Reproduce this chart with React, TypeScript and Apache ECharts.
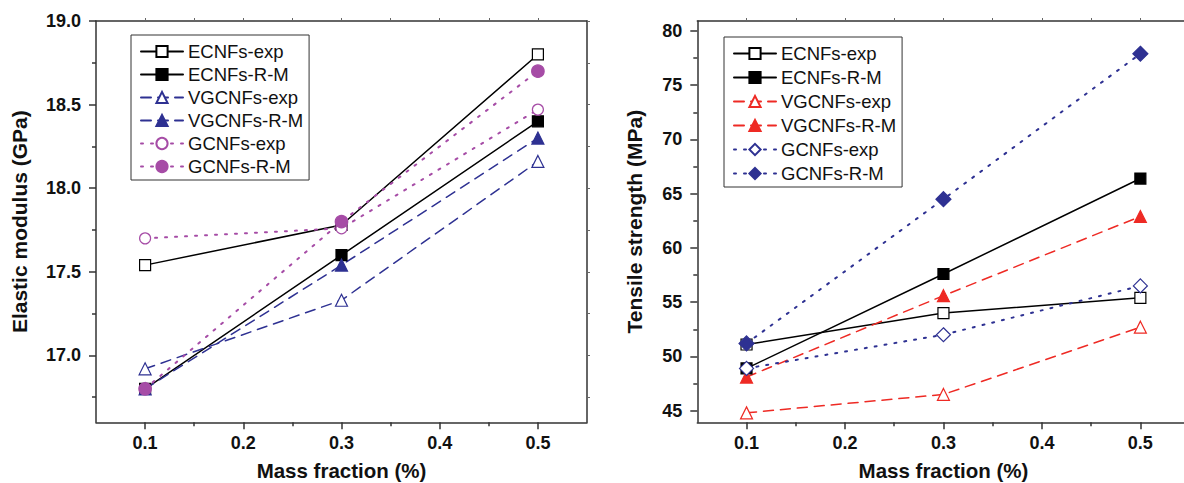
import React, { useEffect, useRef } from "react";
import * as echarts from "echarts";

const FONT = "'Liberation Sans', Arial, Helvetica, sans-serif";

// Categories (mass fraction, %)
const massFractions = [0.1, 0.3, 0.5];
const seriesNames = ["ECNFs-exp", "ECNFs-R-M", "VGCNFs-exp", "VGCNFs-R-M", "GCNFs-exp", "GCNFs-R-M"];

// Left chart: Elastic modulus (GPa)
const modulusEcnfExp = [17.54, 17.78, 18.8];
const modulusEcnfRM = [16.8, 17.6, 18.4];
const modulusVgcnfExp = [16.92, 17.33, 18.16];
const modulusVgcnfRM = [16.8, 17.54, 18.3];
const modulusGcnfExp = [17.7, 17.76, 18.47];
const modulusGcnfRM = [16.8, 17.8, 18.7];

// Right chart: Tensile strength (MPa)
const strengthEcnfExp = [51.1, 54.0, 55.4];
const strengthEcnfRM = [48.9, 57.6, 66.4];
const strengthVgcnfExp = [44.8, 46.5, 52.7];
const strengthVgcnfRM = [48.1, 55.6, 62.9];
const strengthGcnfExp = [48.9, 52.0, 56.5];
const strengthGcnfRM = [51.2, 64.5, 77.9];

// Tick values
const xMajorTicks = [0.1, 0.2, 0.3, 0.4, 0.5];
const xMinorTicks = [0.15, 0.25, 0.35, 0.45];
const xAllTicks = [0.1, 0.15, 0.2, 0.25, 0.3, 0.35, 0.4, 0.45, 0.5];
const modulusMajorTicks = [17.0, 17.5, 18.0, 18.5, 19.0];
const modulusMinorTicks = [16.75, 17.25, 17.75, 18.25, 18.75];
const strengthMajorTicks = [45, 50, 55, 60, 65, 70, 75, 80];
const strengthMinorTicks = [47.5, 52.5, 57.5, 62.5, 67.5, 72.5, 77.5];

const pairs = (ys: number[]) => massFractions.map((x, i) => [x, ys[i]]);

type Cfg = {
  grid: { left: number; top: number; width: number; height: number };
  yMin: number;
  yMax: number;
  yMajor: number[];
  yMinor: number[];
  yFmt: (v: number) => string;
  yName: string;
  yNameGap: number;
  legend: any;
  series: any[];
  showRight: boolean;
};

const axisLineStyle = { color: "#333", width: 1.5 };
const TITLE_STYLE = { fontSize: 21, fontWeight: "bold", color: "#111", fontFamily: FONT };
const X_TITLE_STYLE = { fontSize: 20.5, fontWeight: "bold", color: "#111", fontFamily: FONT };
const TICK_LABEL_SIZE = 18;

function buildOption(c: Cfg) {
  const xBase = {
    type: "value",
    min: 0.05,
    max: 0.55,
    gridIndex: 0,
    splitLine: { show: false },
  };
  const yBase = {
    type: "value",
    min: c.yMin,
    max: c.yMax,
    gridIndex: 0,
    splitLine: { show: false },
  };
  return {
    animation: false,
    backgroundColor: "#fff",
    textStyle: { fontFamily: FONT },
    grid: { ...c.grid, containLabel: false, outerBoundsMode: "none" },
    legend: c.legend,
    xAxis: [
      {
        ...xBase,
        position: "bottom",
        name: "Mass fraction (%)",
        nameLocation: "middle",
        nameGap: 38,
        nameTextStyle: X_TITLE_STYLE,
        axisLine: { show: true, lineStyle: axisLineStyle },
        axisTick: { show: true, inside: false, length: 7, customValues: xMajorTicks, lineStyle: axisLineStyle },
        axisLabel: {
          show: true,
          customValues: xMajorTicks,
          margin: 12,
          fontSize: TICK_LABEL_SIZE,
          fontWeight: "bold",
          color: "#111",
          fontFamily: FONT,
          formatter: (v: number) => v.toFixed(1),
        },
      },
      {
        ...xBase,
        position: "bottom",
        axisLine: { show: false },
        axisTick: { show: true, inside: false, length: 4, customValues: xMinorTicks, lineStyle: axisLineStyle },
        axisLabel: { show: false },
      },
      {
        ...xBase,
        position: "top",
        axisLine: { show: true, lineStyle: axisLineStyle },
        axisTick: { show: true, inside: false, length: 3, customValues: xAllTicks, lineStyle: { color: "#666", width: 1 } },
        axisLabel: { show: false },
      },
    ],
    yAxis: [
      {
        ...yBase,
        position: "left",
        name: c.yName,
        nameLocation: "middle",
        nameGap: c.yNameGap,
        nameRotate: 90,
        nameTextStyle: TITLE_STYLE,
        axisLine: { show: true, lineStyle: axisLineStyle },
        axisTick: { show: true, inside: false, length: 7, customValues: c.yMajor, lineStyle: axisLineStyle },
        axisLabel: {
          show: true,
          customValues: c.yMajor,
          margin: 15,
          fontSize: TICK_LABEL_SIZE,
          fontWeight: "bold",
          color: "#111",
          fontFamily: FONT,
          formatter: c.yFmt,
        },
      },
      {
        ...yBase,
        position: "left",
        axisLine: { show: false },
        axisTick: { show: true, inside: false, length: 4, customValues: c.yMinor, lineStyle: axisLineStyle },
        axisLabel: { show: false },
      },
      {
        ...yBase,
        position: "right",
        axisLine: { show: c.showRight, lineStyle: axisLineStyle },
        axisTick: {
          show: c.showRight,
          inside: false,
          length: 3,
          customValues: [...c.yMajor, ...c.yMinor],
          lineStyle: { color: "#666", width: 1 },
        },
        axisLabel: { show: false },
      },
    ],
    series: c.series,
  };
}

function lineSeries(
  name: string,
  ys: number[],
  lineColor: string,
  lineType: any,
  lineWidth: number,
  symbol: string,
  symbolSize: number,
  fill: string,
  border: string
) {
  return {
    name,
    type: "line",
    xAxisIndex: 0,
    yAxisIndex: 0,
    data: pairs(ys),
    symbol,
    symbolSize,
    showAllSymbol: true,
    lineStyle: { color: lineColor, width: lineWidth, type: lineType, cap: "round" },
    itemStyle: { color: fill, borderColor: border, borderWidth: 1.2, opacity: 1 },
    emphasis: { disabled: true },
    z: 2,
  };
}

const LEFT_BLUE = "#2E3192";
const LEFT_PURPLE = "#A64CA6";
const RIGHT_RED = "#EE2A24";
const RIGHT_NAVY = "#2E3192";
const DASH = [10, 7];
const DOT = [2, 8];

function legendCfg(left: number, top: number, gap: number) {
  return {
    show: true,
    orient: "vertical",
    left,
    top,
    itemWidth: 42,
    itemHeight: 14,
    itemGap: gap,
    padding: [7, 6, 4, 9],
    borderColor: "#333",
    borderWidth: 1,
    backgroundColor: "#fff",
    selectedMode: false,
    textStyle: { fontSize: 18.5, color: "#111", fontFamily: FONT, lineHeight: 18 },
    data: seriesNames,
  };
}

export default function App() {
  const leftRef = useRef<HTMLDivElement>(null);
  const rightRef = useRef<HTMLDivElement>(null);

  useEffect(() => {
    const leftChart = echarts.init(leftRef.current!, null, { renderer: "svg" });
    const rightChart = echarts.init(rightRef.current!, null, { renderer: "svg" });

    leftChart.setOption(
      buildOption({
        grid: { left: 96, top: 21, width: 491, height: 401.3 },
        yMin: 16.6,
        yMax: 19.0,
        yMajor: modulusMajorTicks,
        yMinor: modulusMinorTicks,
        yFmt: (v: number) => v.toFixed(1),
        yName: "Elastic modulus (GPa)",
        yNameGap: 66,
        legend: legendCfg(131, 35, 4),
        showRight: true,
        series: [
          lineSeries(seriesNames[0], modulusEcnfExp, "#000", "solid", 1.5, "rect", 11, "#fff", "#000"),
          lineSeries(seriesNames[1], modulusEcnfRM, "#000", "solid", 1.5, "rect", 11, "#000", "#000"),
          lineSeries(seriesNames[2], modulusVgcnfExp, LEFT_BLUE, DASH, 1.5, "triangle", 12, "#fff", LEFT_BLUE),
          lineSeries(seriesNames[3], modulusVgcnfRM, LEFT_BLUE, DASH, 1.5, "triangle", 12, LEFT_BLUE, LEFT_BLUE),
          lineSeries(seriesNames[4], modulusGcnfExp, LEFT_PURPLE, DOT, 2, "circle", 11, "#fff", LEFT_PURPLE),
          lineSeries(seriesNames[5], modulusGcnfRM, LEFT_PURPLE, DOT, 2, "circle", 12.5, LEFT_PURPLE, LEFT_PURPLE),
        ],
      }) as any
    );

    rightChart.setOption(
      buildOption({
        grid: { left: 107.3, top: 21, width: 492.3, height: 401.3 },
        yMin: 43.93,
        yMax: 80.92,
        yMajor: strengthMajorTicks,
        yMinor: strengthMinorTicks,
        yFmt: (v: number) => String(Math.round(v)),
        yName: "Tensile strength (MPa)",
        yNameGap: 52,
        legend: legendCfg(134, 37, 5),
        showRight: true,
        series: [
          lineSeries(seriesNames[0], strengthEcnfExp, "#000", "solid", 1.5, "rect", 11, "#fff", "#000"),
          lineSeries(seriesNames[1], strengthEcnfRM, "#000", "solid", 1.5, "rect", 11, "#000", "#000"),
          lineSeries(seriesNames[2], strengthVgcnfExp, RIGHT_RED, DASH, 1.5, "triangle", 12, "#fff", RIGHT_RED),
          lineSeries(seriesNames[3], strengthVgcnfRM, RIGHT_RED, DASH, 1.5, "triangle", 12, RIGHT_RED, RIGHT_RED),
          lineSeries(seriesNames[4], strengthGcnfExp, RIGHT_NAVY, DOT, 2, "diamond", 14, "#fff", RIGHT_NAVY),
          lineSeries(seriesNames[5], strengthGcnfRM, RIGHT_NAVY, DOT, 2, "diamond", 15, RIGHT_NAVY, RIGHT_NAVY),
        ],
      }) as any
    );

    return () => {
      leftChart.dispose();
      rightChart.dispose();
    };
  }, []);

  return (
    <div
      style={{
        position: "fixed",
        left: 0,
        top: 0,
        width: 1184,
        height: 483,
        overflow: "hidden",
        background: "#fff",
      }}
    >
      <div ref={leftRef} style={{ position: "absolute", left: 0, top: 0, width: 590, height: 483 }} />
      <div ref={rightRef} style={{ position: "absolute", left: 590, top: 0, width: 612, height: 483 }} />
    </div>
  );
}
